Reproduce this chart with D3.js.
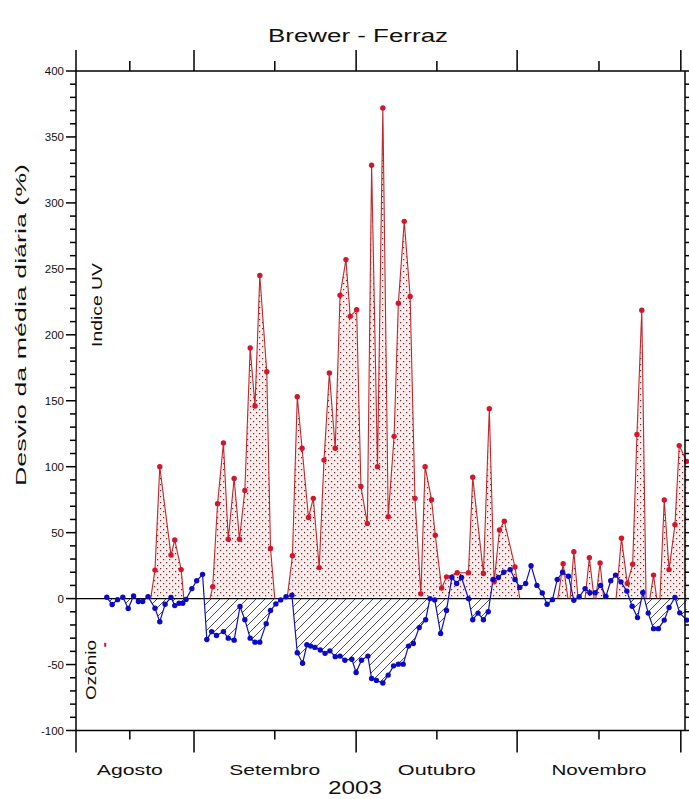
<!DOCTYPE html>
<html>
<head>
<meta charset="utf-8">
<script src="https://cdn.jsdelivr.net/npm/d3@7"></script>
<style>
  body { margin: 0; background: #fff; }
  text { font-family: Arial, "Liberation Sans", sans-serif; fill: #111; }
</style>
</head>
<body>
<svg id="chart" width="689" height="799"></svg>
<script>
// days are counted from 1 Sep 2003 (day 0)
var blueDays = [-16.3,-15.3,-14.3,-13.3,-12.3,-11.3,-10.4,-9.6,-8.6,-7.3,-6.4,-5.4,-4.3,-3.6,-2.8,-2.1,-1.5,-0.4,0.5,1.6,
  2.4,3.3,4.2,5.5,6.4,7.5,8.6,9.5,10.5,11.4,12.3,13.5,14.3,15.3,16.2,17.2,18.3,
  19.3,20.3,21.1,21.8,22.6,23.6,24.5,25.4,26.4,27.3,28.2,29.5,30.3,31.3,32.5,33.2,34.1,35.3,36.3,37.3,38.2,39.1,40.1,41.0,42.1,43.3,44.1,45.0,
  46.1,47.2,48.2,49.1,50.0,51.3,52.1,53.1,54.1,55.0,55.9,56.9,57.9,59.1,60.0,60.9,62.0,63.0,64.1,65.1,66.0,67.0,67.9,68.9,70.0,
  71.0,72.0,73.1,74.0,75.0,76.0,77.0,77.9,78.8,79.8,80.9,81.9,82.9,83.9,84.9,85.9,86.8,87.9,88.8,89.9,90.8,92.1];
var blueVals = [1,-4.5,-0.8,1,-7.5,2,-2.2,-2.2,1.5,-7.3,-17.5,-4.3,0.9,-5.3,-3.5,-3.5,-0.6,7.6,13.5,18.4,
  -31,-25,-28,-25,-30,-31.5,-6,-16,-30,-33,-33,-19,-9,-4,-1,1.4,2.6,
  -41,-49,-35,-36,-37,-39,-41.5,-39.6,-44,-43.6,-46.7,-46,-56,-46.7,-43.6,-60.6,-62,-64,-58,-51,-49.7,-49.7,-36,-34,-22,-16,0,-1,
  -26.5,-9,16,11.5,16,0,-16,-11,-16,-10,14.5,16,20,22,14.5,8.5,11.5,25,10,4.3,-4.3,-0.8,14.5,20,17,
  -1.3,1.4,7.6,4.4,4.4,10,1.7,13.5,17.8,12.7,5.7,-5.8,-14.4,4.6,-11,-22.8,-22.8,-16.3,-6.7,0.8,-10.8,-16.3];

// null = no measurement (gap in the UV curve)
var redDays = [-8.1,-7.3,-6.4,-4.3,-3.6,-2.4,-1.9,null,
  3.0,3.5,4.4,5.5,6.4,7.5,8.5,9.5,10.5,11.4,12.3,13.6,14.3,15.1,null,
  17.4,18.4,19.3,20.2,21.4,22.3,23.4,24.3,25.3,26.4,27.3,28.4,29.2,30.4,31.2,32.4,33.2,34.3,35.3,36.3,37.4,38.2,39.3,40.4,41.3,42.4,
  43.2,44.4,45.1,46.3,47.2,49.2,51.3,52.1,54.1,55.2,56.1,57.1,58.0,60.0,60.9,null,
  68.0,69.0,69.9,null,70.3,71.0,71.8,null,73.1,73.9,74.8,null,75.1,75.9,76.6,null,
  78.9,79.9,81.0,82.0,82.8,83.7,84.5,null,85.2,85.9,86.5,null,87.1,87.9,88.8,89.9,90.7,92.1];
var redVals = [0,21.6,100,33,44.5,22,0,null,
  0,9,72,118,45,91,45,82,190,146,245,172,38,0,null,
  0,32.5,153,114,61.5,76,23.5,105,171,114,230,257,214,219,85,57,328.6,100,372,62,123,224,286,229,76,3.6,
  100,75,48,8,16.5,19.6,19.6,92,19,144,12.7,52,58.7,24,0,null,
  0,26.5,0,null,0,35.5,0,null,0,31,0,null,0,27,0,null,
  0,45.7,11.5,26,124.5,218.6,0,null,0,17.8,0,null,0,74.7,22,56,116,104];

var loneRed = [[-16.6, -35]];

var yTicks = [-100,-50,0,50,100,150,200,250,300,350,400];
var monthEdges = [-22.06, 0, 30.3, 60.4, 91];
var monthMids = [-12, 15.1, 45.4, 75.7];
var monthNames = ['Agosto', 'Setembro', 'Outubro', 'Novembro'];
var monthWidths = [66, 91, 78, 95];

var W = 689, H = 799;
var svg = d3.select('#chart');

var x = d3.scaleLinear().domain([-22.06, 91.78]).range([76, 685]);
var y = d3.scaleLinear().domain([-100, 400]).range([730.5, 71]);

var defs = svg.append('defs');
var dots = defs.append('pattern').attr('id', 'dots')
  .attr('patternUnits', 'userSpaceOnUse').attr('width', 6).attr('height', 6);
dots.append('rect').attr('width', 6).attr('height', 6).attr('fill', '#fcecec');
dots.append('rect').attr('x', 1).attr('y', 1).attr('width', 1.2).attr('height', 1.2).attr('fill', '#6a2a2a');
dots.append('rect').attr('x', 4).attr('y', 4).attr('width', 1.2).attr('height', 1.2).attr('fill', '#6a2a2a');

var hatch = defs.append('pattern').attr('id', 'hatch')
  .attr('patternUnits', 'userSpaceOnUse').attr('width', 9).attr('height', 9);
hatch.append('path').attr('d', 'M0,9 L9,0 M-1,1 L1,-1 M8,10 L10,8')
  .attr('stroke', '#1c1c3c').attr('stroke-width', 0.8);

defs.append('clipPath').attr('id', 'above')
  .append('rect').attr('x', 0).attr('y', 0).attr('width', W).attr('height', y(0));
defs.append('clipPath').attr('id', 'below')
  .append('rect').attr('x', 0).attr('y', y(0)).attr('width', W).attr('height', H - y(0));

var redIdx = d3.range(redDays.length);
var blueIdx = d3.range(blueDays.length);

// UV fill (stippled)
svg.append('path')
  .datum(redIdx)
  .attr('clip-path', 'url(#above)')
  .attr('fill', 'url(#dots)')
  .attr('d', d3.area()
    .defined(function(i) { return redVals[i] !== null; })
    .x(function(i) { return x(redDays[i]); })
    .y0(y(0))
    .y1(function(i) { return y(redVals[i]); }));

// ozone fill (hatched, only below zero)
svg.append('path')
  .datum(blueIdx)
  .attr('clip-path', 'url(#below)')
  .attr('fill', 'url(#hatch)')
  .attr('d', d3.area()
    .x(function(i) { return x(blueDays[i]); })
    .y0(y(0))
    .y1(function(i) { return y(blueVals[i]); }));

// zero line
svg.append('line')
  .attr('x1', x.range()[0]).attr('x2', x.range()[1])
  .attr('y1', y(0)).attr('y2', y(0))
  .attr('stroke', '#000').attr('stroke-width', 1.2);

svg.append('path')
  .datum(redIdx)
  .attr('fill', 'none')
  .attr('stroke', '#c0282d')
  .attr('stroke-width', 1.1)
  .attr('d', d3.line()
    .defined(function(i) { return redVals[i] !== null; })
    .x(function(i) { return x(redDays[i]); })
    .y(function(i) { return y(redVals[i]); }));

svg.append('path')
  .datum(blueIdx)
  .attr('fill', 'none')
  .attr('stroke', '#1010b8')
  .attr('stroke-width', 1.2)
  .attr('d', d3.line()
    .x(function(i) { return x(blueDays[i]); })
    .y(function(i) { return y(blueVals[i]); }));

svg.append('g').selectAll('circle')
  .data(redIdx.filter(function(i) { return redVals[i] !== null && redVals[i] !== 0; }))
  .enter().append('circle')
  .attr('cx', function(i) { return x(redDays[i]); })
  .attr('cy', function(i) { return y(redVals[i]); })
  .attr('r', 2.7)
  .attr('fill', '#d4152c');

svg.append('g').selectAll('rect')
  .data(loneRed)
  .enter().append('rect')
  .attr('x', function(d) { return x(d[0]) - 1; })
  .attr('y', function(d) { return y(d[1]) - 2; })
  .attr('width', 2).attr('height', 4)
  .attr('fill', '#d4152c');

svg.append('g').selectAll('circle')
  .data(blueIdx)
  .enter().append('circle')
  .attr('cx', function(i) { return x(blueDays[i]); })
  .attr('cy', function(i) { return y(blueVals[i]); })
  .attr('r', 2.7)
  .attr('fill', '#0a0ac8');

// frame
var x0 = x.range()[0], x1 = x.range()[1], yb = y.range()[0], yt = y.range()[1];
var frame = svg.append('g').attr('stroke', '#000').attr('stroke-width', 1.5);
frame.append('line').attr('x1', x0).attr('x2', x1).attr('y1', yb).attr('y2', yb);
frame.append('line').attr('x1', x0).attr('x2', x1).attr('y1', yt).attr('y2', yt);
frame.append('line').attr('x1', x0).attr('x2', x0).attr('y1', yt).attr('y2', yb);
frame.append('line').attr('x1', x1).attr('x2', x1).attr('y1', yt).attr('y2', yb);

// y ticks, every 10 units, labels every 50
var yMinor = d3.range(-100, 401, 10);
frame.selectAll('.yl').data(yMinor).enter().append('line')
  .attr('x1', function(d) { return d % 50 === 0 ? x0 - 10 : x0 - 6; })
  .attr('x2', x0)
  .attr('y1', function(d) { return y(d); }).attr('y2', function(d) { return y(d); });
frame.selectAll('.yr').data(yMinor).enter().append('line')
  .attr('x1', x1)
  .attr('x2', function(d) { return d % 50 === 0 ? x1 + 8 : x1 + 5; })
  .attr('y1', function(d) { return y(d); }).attr('y2', function(d) { return y(d); });

svg.append('g').selectAll('text').data(yTicks).enter().append('text')
  .attr('x', x0 - 12)
  .attr('y', function(d) { return y(d) + 4; })
  .attr('text-anchor', 'end')
  .attr('font-size', 11.5)
  .text(function(d) { return d; });

// month ticks (bottom down, top up)
frame.selectAll('.mb').data(monthEdges).enter().append('line')
  .attr('x1', function(d) { return x(d); }).attr('x2', function(d) { return x(d); })
  .attr('y1', yb).attr('y2', yb + 22);
frame.selectAll('.mt').data(monthEdges).enter().append('line')
  .attr('x1', function(d) { return x(d); }).attr('x2', function(d) { return x(d); })
  .attr('y1', yt).attr('y2', yt - 21);
frame.selectAll('.mmb').data(monthMids).enter().append('line')
  .attr('x1', function(d) { return x(d); }).attr('x2', function(d) { return x(d); })
  .attr('y1', yb).attr('y2', yb + 9);
frame.selectAll('.mmt').data(monthMids).enter().append('line')
  .attr('x1', function(d) { return x(d); }).attr('x2', function(d) { return x(d); })
  .attr('y1', yt).attr('y2', yt - 10);

svg.append('g').selectAll('text').data(monthNames).enter().append('text')
  .attr('x', function(d, i) { return x(monthMids[i]); })
  .attr('y', 775)
  .attr('text-anchor', 'middle')
  .attr('font-size', 15)
  .attr('textLength', function(d, i) { return monthWidths[i]; })
  .attr('lengthAdjust', 'spacingAndGlyphs')
  .text(function(d) { return d; });

svg.append('text').attr('x', 355).attr('y', 794)
  .attr('text-anchor', 'middle').attr('font-size', 18)
  .attr('textLength', 54).attr('lengthAdjust', 'spacingAndGlyphs')
  .text('2003');

svg.append('text').attr('x', 358).attr('y', 42)
  .attr('text-anchor', 'middle').attr('font-size', 18)
  .attr('textLength', 180).attr('lengthAdjust', 'spacingAndGlyphs')
  .text('Brewer - Ferraz');

svg.append('text').attr('transform', 'translate(26,325) rotate(-90)')
  .attr('text-anchor', 'middle').attr('font-size', 14)
  .attr('textLength', 322).attr('lengthAdjust', 'spacingAndGlyphs')
  .text('Desvio da média diária  (%)');

svg.append('text').attr('transform', 'translate(102,305) rotate(-90)')
  .attr('text-anchor', 'middle').attr('font-size', 15)
  .attr('textLength', 84).attr('lengthAdjust', 'spacingAndGlyphs')
  .text('Indice UV');

svg.append('text').attr('transform', 'translate(96,670) rotate(-90)')
  .attr('text-anchor', 'middle').attr('font-size', 15)
  .attr('textLength', 60).attr('lengthAdjust', 'spacingAndGlyphs')
  .text('Ozônio');
</script>
</body>
</html>
